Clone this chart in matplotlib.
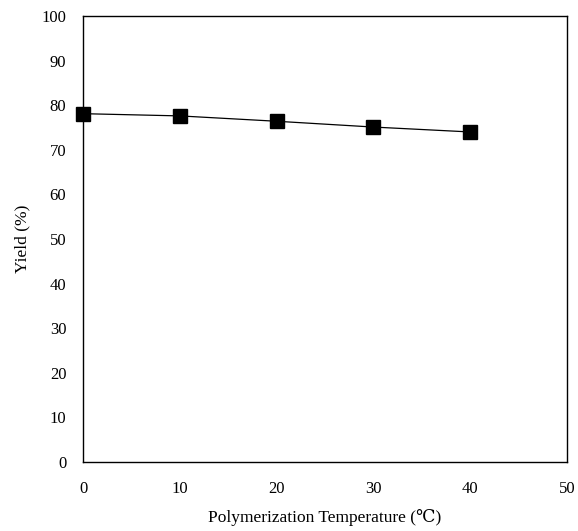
import matplotlib.pyplot as plt

# data
temp = [0, 10, 20, 30, 40]
yield_pct = [78.1, 77.6, 76.4, 75.1, 74.0]
x_ticks = [0, 10, 20, 30, 40, 50]
y_ticks = [0, 10, 20, 30, 40, 50, 60, 70, 80, 90, 100]

plt.rcParams['font.family'] = ['Liberation Serif', 'DejaVu Serif']

fig = plt.figure(figsize=(5.78, 5.31), dpi=100)
ax = fig.add_axes([83 / 578, 1 - 462 / 531, (567 - 83) / 578, (462 - 16) / 531])

ax.plot(temp, yield_pct, color='black', linewidth=0.9, marker='s',
        markersize=10, markerfacecolor='black', markeredgecolor='black', clip_on=False)

ax.set_xlim(0, 50)
ax.set_ylim(0, 100)
ax.set_xticks(x_ticks)
ax.set_yticks(y_ticks)
ax.tick_params(axis='x', length=0, labelsize=12, pad=14)
ax.tick_params(axis='y', length=0, labelsize=12, pad=12)
for s in ax.spines.values():
    s.set_linewidth(1.0)

ax.set_xlabel('Polymerization Temperature (℃)', fontsize=12.5, labelpad=8)
ax.set_ylabel('Yield (%)', fontsize=12.5, labelpad=8)

fig.savefig('out.png', dpi=100)
